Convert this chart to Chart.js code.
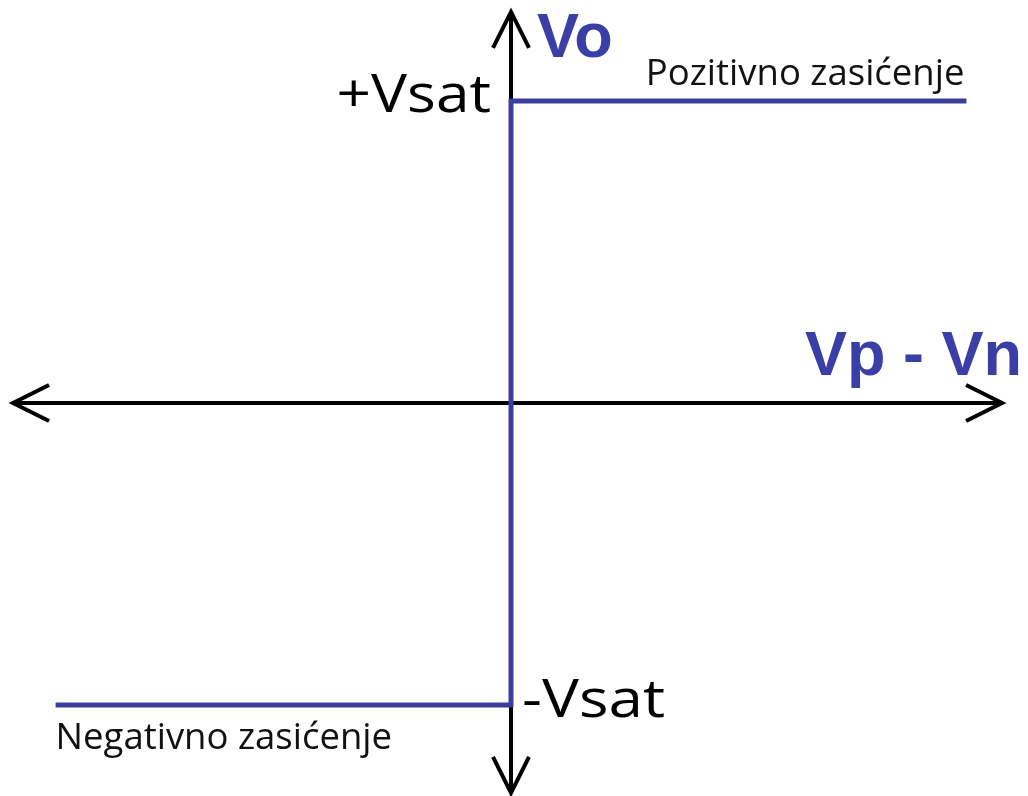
<!DOCTYPE html>
<html>
<head>
<meta charset="utf-8">
<script src="https://cdn.jsdelivr.net/npm/chart.js@4/dist/chart.umd.min.js"></script>
<style>
  html, body { margin: 0; padding: 0; background: #ffffff; }
  #chart { display: block; }
</style>
</head>
<body>
<canvas id="chart" width="1028" height="796"></canvas>
<script>
// Prijenosna karakteristika komparatora (Vo u jedinicama Vsat)
const inputX = [-0.92, 0, 0, 0.92];      // Vp - Vn
const outputY = [-1, -1, 1, 1];          // Vo
const xAxisEnds = [-1.006, 0.992];       // krajevi horizontalne osi
const yAxisEnds = [-1.291, 1.295];       // krajevi vertikalne osi
const levelLabels = ['+Vsat', '-Vsat'];
const levelValues = [1, -1];
const axisTitles = ['Vp - Vn', 'Vo'];
const regionLabels = ['Pozitivno zasićenje', 'Negativno zasićenje'];

const blue = '#3b3e9c';
const blueText = '#3a3fa8';

// tekst malo razvučen vodoravno
function stretchedText(ctx, text, x, y, align, sx) {
    ctx.save();
    ctx.translate(x, y);
    ctx.scale(sx, 1);
    ctx.textAlign = align;
    ctx.fillText(text, 0, 0);
    ctx.restore();
}

// crtanje strelica i tekstova
const labelsPlugin = {
    id: 'labels',
    afterDatasetsDraw(chart) {
        const ctx = chart.ctx;
        const xs = chart.scales.x;
        const ys = chart.scales.y;
        const x0 = xs.getPixelForValue(0);
        const y0 = ys.getPixelForValue(0);

        // strelice
        ctx.save();
        ctx.strokeStyle = '#000';
        ctx.lineWidth = 4;
        ctx.lineJoin = 'miter';
        const back = 36, side = 18;
        const left = xs.getPixelForValue(xAxisEnds[0]);
        const right = xs.getPixelForValue(xAxisEnds[1]);
        const top = ys.getPixelForValue(yAxisEnds[1]);
        const bottom = ys.getPixelForValue(yAxisEnds[0]);
        ctx.beginPath();
        ctx.moveTo(left + back, y0 - side); ctx.lineTo(left, y0); ctx.lineTo(left + back, y0 + side);
        ctx.moveTo(right - back, y0 - side); ctx.lineTo(right, y0); ctx.lineTo(right - back, y0 + side);
        ctx.moveTo(x0 - side, top + back); ctx.lineTo(x0, top); ctx.lineTo(x0 + side, top + back);
        ctx.moveTo(x0 - side, bottom - back); ctx.lineTo(x0, bottom); ctx.lineTo(x0 + side, bottom - back);
        ctx.stroke();

        // +Vsat / -Vsat
        ctx.textBaseline = 'alphabetic';
        ctx.fillStyle = '#000';
        ctx.font = '53px "Open Sans"';
        stretchedText(ctx, levelLabels[0], x0 - 20, ys.getPixelForValue(levelValues[0]) + 11, 'right', 1.14);
        stretchedText(ctx, levelLabels[1], x0 + 11, ys.getPixelForValue(levelValues[1]) + 12, 'left', 1.17);

        // nazivi osi
        ctx.fillStyle = blueText;
        ctx.font = 'bold 63px "Liberation Sans"';
        ctx.textAlign = 'right';
        ctx.fillText(axisTitles[0], right + 20, y0 - 28);
        ctx.textAlign = 'left';
        ctx.fillText(axisTitles[1], x0 + 26, top + 45);

        // zasićenje
        ctx.fillStyle = '#111';
        ctx.font = '36.5px "Open Sans"';
        ctx.textAlign = 'right';
        ctx.fillText(regionLabels[0], xs.getPixelForValue(inputX[3]) - 2, ys.getPixelForValue(outputY[3]) - 16);
        ctx.textAlign = 'left';
        ctx.fillText(regionLabels[1], xs.getPixelForValue(inputX[0]), ys.getPixelForValue(outputY[0]) + 44);
        ctx.restore();
    }
};

new Chart(document.getElementById('chart'), {
    type: 'scatter',
    data: {
        datasets: [
            {
                // karakteristika (crta se zadnja, preko osi)
                data: inputX.map((x, i) => ({ x: x, y: outputY[i] })),
                showLine: true,
                borderColor: blue,
                borderWidth: 5,
                pointRadius: 0,
                borderJoinStyle: 'miter'
            },
            {
                data: xAxisEnds.map(x => ({ x: x, y: 0 })),
                showLine: true,
                borderColor: '#000',
                borderWidth: 4,
                pointRadius: 0
            },
            {
                data: yAxisEnds.map(y => ({ x: 0, y: y })),
                showLine: true,
                borderColor: '#000',
                borderWidth: 4,
                pointRadius: 0
            }
        ]
    },
    options: {
        responsive: false,
        animation: false,
        layout: { padding: 0 },
        scales: {
            x: { type: 'linear', display: false, min: -1.0323, max: 1.0444 },
            y: { type: 'linear', display: false, min: -1.3013, max: 1.3344 }
        },
        plugins: {
            legend: { display: false },
            tooltip: { enabled: false }
        }
    },
    plugins: [labelsPlugin]
});
</script>
</body>
</html>
